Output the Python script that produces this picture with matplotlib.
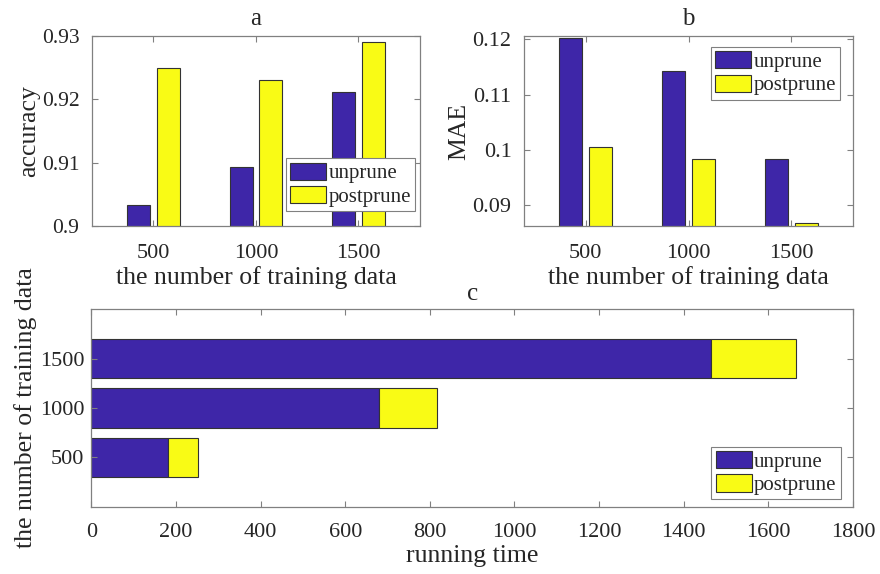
import numpy as np
import matplotlib.pyplot as plt
from matplotlib.patches import Patch

plt.rcParams['font.family'] = ['Liberation Serif', 'DejaVu Serif']
plt.rcParams['font.size'] = 16

# data
train_sizes = [500, 1000, 1500]
size_labels = ['500', '1000', '1500']

acc_unprune = [0.9033, 0.9093, 0.9211]
acc_postprune = [0.9250, 0.9231, 0.9290]

mae_unprune = [0.1202, 0.1143, 0.0984]
mae_postprune = [0.1005, 0.0984, 0.0867]

time_unprune = [180, 680, 1464]
time_postprune = [73, 137, 201]

BLUE = '#3E26A8'
YELLOW = '#F9FB15'
EDGE = '#333333'
AX_GRAY = '#808080'
TXT = '#262626'
LABEL_SIZE = 18.5


def style_axes(ax, xpad=13, ypad=9, size=16):
    for s in ax.spines.values():
        s.set_color(AX_GRAY)
        s.set_linewidth(0.9)
    ax.tick_params(direction='in', length=4, width=0.8, color=AX_GRAY,
                   top=True, right=True, labelcolor=TXT, labelsize=size)
    ax.tick_params(axis='x', pad=xpad)
    ax.tick_params(axis='y', pad=ypad)


def add_legend(ax, loc, anchor):
    handles = [Patch(facecolor=BLUE, edgecolor=EDGE, linewidth=0.8, label='unprune'),
               Patch(facecolor=YELLOW, edgecolor=EDGE, linewidth=0.8, label='postprune')]
    leg = ax.legend(handles=handles, loc=loc, bbox_to_anchor=anchor,
                    fancybox=False, framealpha=1, edgecolor=AX_GRAY,
                    fontsize=15, handlelength=1.75, handleheight=0.9,
                    handletextpad=0.1, labelspacing=0.12, borderpad=0.2,
                    borderaxespad=0)
    leg.get_frame().set_linewidth(0.8)
    for t in leg.get_texts():
        t.set_color(TXT)


fig = plt.figure(figsize=(8.8, 5.74), dpi=100)
ax_a = fig.add_axes([0.1045, 0.6063, 0.3727, 0.331])
ax_b = fig.add_axes([0.5955, 0.6063, 0.3739, 0.331])
ax_c = fig.add_axes([0.1039, 0.1172, 0.8653, 0.3439])

x = np.arange(1, len(train_sizes) + 1)
w = 0.225
off = 0.145

# a: accuracy
ax_a.bar(x - off, acc_unprune, w, color=BLUE, edgecolor=EDGE, linewidth=0.8)
ax_a.bar(x + off, acc_postprune, w, color=YELLOW, edgecolor=EDGE, linewidth=0.8)
ax_a.set_xlim(0.4, 3.6)
ax_a.set_ylim(0.9, 0.93)
ax_a.set_xticks(x, size_labels)
ax_a.set_yticks([0.9, 0.91, 0.92, 0.93], ['0.9', '0.91', '0.92', '0.93'])
ax_a.set_xlabel('the number of training data', color=TXT, fontsize=LABEL_SIZE, labelpad=2)
ax_a.set_ylabel('accuracy', color=TXT, fontsize=LABEL_SIZE)
ax_a.yaxis.set_label_coords(-0.158, 0.5)
ax_a.set_title('a', fontsize=18, color=TXT, pad=8)
style_axes(ax_a, size=15.5)
ax_a.tick_params(axis='x', labelsize=16)
add_legend(ax_a, 'lower right', (0.985, 0.079))

# b: MAE
ax_b.bar(x - off, mae_unprune, w, color=BLUE, edgecolor=EDGE, linewidth=0.8)
ax_b.bar(x + off, mae_postprune, w, color=YELLOW, edgecolor=EDGE, linewidth=0.8)
ax_b.set_xlim(0.4, 3.6)
ax_b.set_ylim(0.0862, 0.1206)
ax_b.set_xticks(x, size_labels)
ax_b.set_yticks([0.09, 0.1, 0.11, 0.12], ['0.09', '0.1', '0.11', '0.12'])
ax_b.set_xlabel('the number of training data', color=TXT, fontsize=LABEL_SIZE, labelpad=2)
ax_b.set_ylabel('MAE', color=TXT, fontsize=LABEL_SIZE)
ax_b.yaxis.set_label_coords(-0.164, 0.5)
ax_b.set_title('b', fontsize=18, color=TXT, pad=8)
style_axes(ax_b)
add_legend(ax_b, 'upper right', (0.9605, 0.942))

# c: running time, stacked horizontal bars
ax_c.barh(train_sizes, time_unprune, height=400, color=BLUE,
          edgecolor=EDGE, linewidth=0.8)
ax_c.barh(train_sizes, time_postprune, height=400, left=time_unprune,
          color=YELLOW, edgecolor=EDGE, linewidth=0.8)
ax_c.set_xlim(0, 1800)
ax_c.set_ylim(0, 2000)
ax_c.set_xticks(np.arange(0, 1801, 200))
ax_c.set_yticks(train_sizes, size_labels)
ax_c.set_xlabel('running time', color=TXT, fontsize=LABEL_SIZE, labelpad=2)
ax_c.set_ylabel('the number of training data', color=TXT, fontsize=LABEL_SIZE)
ax_c.yaxis.set_label_coords(-0.072, 0.5)
ax_c.set_title('c', fontsize=18, color=TXT, pad=7)
style_axes(ax_c, xpad=12, ypad=5)
add_legend(ax_c, 'lower right', (0.984, 0.0375))

fig.savefig('out.png', dpi=100)
